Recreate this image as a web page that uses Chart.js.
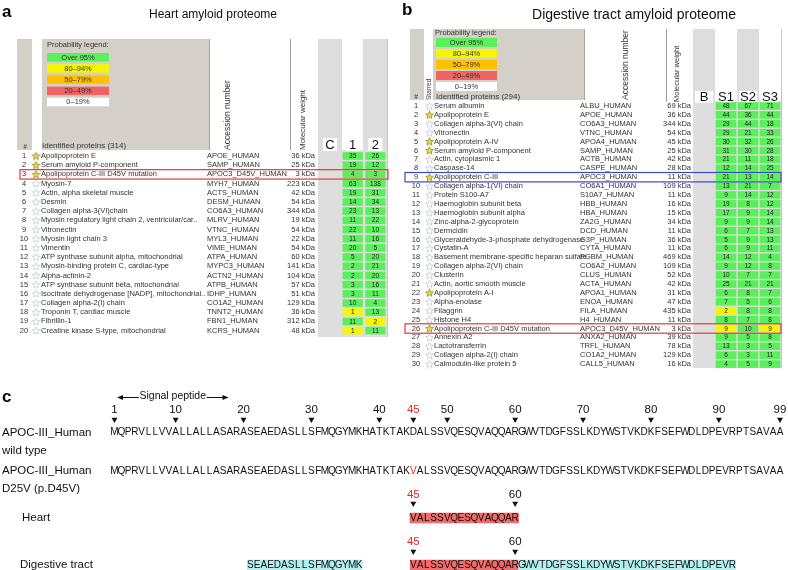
<!DOCTYPE html>
<html>
<head>
<meta charset="utf-8">
<script src="https://cdn.jsdelivr.net/npm/chart.js@4.4.1/dist/chart.umd.min.js"></script>
<style>
html, body { margin: 0; padding: 0; background: #fff; }
canvas { display: block; }
</style>
</head>
<body>
<canvas id="mycanvas" width="788" height="570" style="width:788px;height:570px"></canvas>
<script>
// ---- a: heart amyloid proteome ----
var heartCols = ['C', '1', '2'];
var heartNames = ['Apolipoprotein E', 'Serum amyloid P-component', 'Apolipoprotein C-III D45V mutation', 'Myosin-7',
  'Actin, alpha skeletal muscle', 'Desmin', 'Collagen alpha-3(VI)chain', 'Myosin regulatory light chain 2, ventricular/car..',
  'Vitronectin', 'Myosin light chain 3', 'Vimentin', 'ATP synthase subunit alpha, mitochondrial',
  'Myosin-binding protein C, cardiac-type', 'Alpha-actinin-2', 'ATP synthase subunit beta, mitochondrial',
  'Isocitrate dehydrogenase [NADP], mitochondrial..', 'Collagen alpha-2(I) chain', 'Troponin T, cardiac muscle',
  'Fibrillin-1', 'Creatine kinase S-type, mitochondrial'];
var heartAcc = ['APOE_HUMAN', 'SAMP_HUMAN', 'APOC3_D45V_HUMAN', 'MYH7_HUMAN', 'ACTS_HUMAN', 'DESM_HUMAN', 'CO6A3_HUMAN',
  'MLRV_HUMAN', 'VTNC_HUMAN', 'MYL3_HUMAN', 'VIME_HUMAN', 'ATPA_HUMAN', 'MYPC3_HUMAN', 'ACTN2_HUMAN', 'ATPB_HUMAN',
  'IDHP_HUMAN', 'CO1A2_HUMAN', 'TNNT2_HUMAN', 'FBN1_HUMAN', 'KCRS_HUMAN'];
var heartMW = [36, 25, 3, 223, 42, 54, 344, 19, 54, 22, 54, 60, 141, 104, 57, 51, 129, 36, 312, 48];
var heartStarred = [1, 1, 1, 0, 0, 0, 0, 0, 0, 0, 0, 0, 0, 0, 0, 0, 0, 0, 0, 0];
var heartCount1 = [35, 19, 4, 63, 19, 14, 23, 11, 22, 11, 20, 5, 2, 2, 3, 3, 10, 1, 11, 1];
var heartCount2 = [26, 12, 3, 138, 31, 34, 13, 22, 10, 16, 5, 20, 21, 20, 16, 11, 4, 13, 2, 11];
var heartProb1 = ['g','g','g','g','g','g','g','g','g','g','g','g','g','g','g','g','g','y','g','y'];
var heartProb2 = ['g','g','g','g','g','g','g','g','g','g','g','g','g','g','g','g','g','g','y','g'];
var heartBoxRows = [3];

// ---- b: digestive tract amyloid proteome ----
var digCols = ['B', 'S1', 'S2', 'S3'];
var digNames = ['Serum albumin', 'Apolipoprotein E', 'Collagen alpha-3(VI) chain', 'Vitronectin', 'Apolipoprotein A-IV',
  'Serum amyloid P-component', 'Actin, cytoplasmic 1', 'Caspase-14', 'Apolipoprotein C-III', 'Collagen alpha-1(VI) chain',
  'Protein S100-A7', 'Haemoglobin subunit beta', 'Haemoglobin subunit alpha', 'Zinc-alpha-2-glycoprotein', 'Dermcidin',
  'Glyceraldehyde-3-phosphate dehydrogenase', 'Cystatin-A', 'Basement membrane-specific heparan sulfate',
  'Collagen alpha-2(VI) chain', 'Clusterin', 'Actin, aortic smooth muscle', 'Apolipoprotein A-I', 'Alpha-enolase',
  'Filaggrin', 'Histone H4', 'Apolipoprotein C-III D45V mutation', 'Annexin A2', 'Lactotransferrin',
  'Collagen alpha-2(I) chain', 'Calmodulin-like protein 5'];
var digAcc = ['ALBU_HUMAN', 'APOE_HUMAN', 'CO6A3_HUMAN', 'VTNC_HUMAN', 'APOA4_HUMAN', 'SAMP_HUMAN', 'ACTB_HUMAN',
  'CASPE_HUMAN', 'APOC3_HUMAN', 'CO6A1_HUMAN', 'S10A7_HUMAN', 'HBB_HUMAN', 'HBA_HUMAN', 'ZA2G_HUMAN', 'DCD_HUMAN',
  'G3P_HUMAN', 'CYTA_HUMAN', 'PGBM_HUMAN', 'CO6A2_HUMAN', 'CLUS_HUMAN', 'ACTA_HUMAN', 'APOA1_HUMAN', 'ENOA_HUMAN',
  'FILA_HUMAN', 'H4_HUMAN', 'APOC3_D45V_HUMAN', 'ANXA2_HUMAN', 'TRFL_HUMAN', 'CO1A2_HUMAN', 'CALL5_HUMAN'];
var digMW = [69, 36, 344, 54, 45, 25, 42, 28, 11, 109, 11, 16, 15, 34, 11, 36, 11, 469, 109, 52, 42, 31, 47, 435, 11, 3, 39, 78, 129, 16];
var digStarred = [0, 1, 0, 0, 1, 1, 0, 0, 1, 0, 0, 0, 0, 0, 0, 0, 0, 0, 0, 0, 0, 1, 0, 0, 0, 1, 0, 0, 0, 0];
var digCount1 = [48, 44, 29, 29, 30, 31, 21, 12, 21, 13, 9, 19, 17, 9, 6, 5, 6, 14, 9, 10, 25, 6, 7, 2, 8, 9, 9, 13, 6, 4];
var digCount2 = [67, 36, 44, 21, 32, 30, 11, 14, 13, 21, 14, 8, 9, 9, 7, 9, 9, 12, 12, 7, 21, 8, 5, 8, 7, 10, 5, 3, 3, 5];
var digCount3 = [71, 44, 18, 33, 26, 28, 18, 25, 14, 7, 12, 12, 14, 14, 13, 13, 11, 4, 8, 7, 21, 7, 6, 8, 8, 9, 8, 5, 11, 9];
var digProb1 = ['g','g','g','g','g','g','g','g','g','g','g','g','g','g','g','g','g','g','g','g','g','g','g','y','g','y','g','g','g','g'];
var digProb2 = ['g','g','g','g','g','g','g','g','g','g','g','g','g','g','g','g','g','g','g','g','g','g','g','g','g','g','g','g','g','g'];
var digProb3 = ['g','g','g','g','g','g','g','g','g','g','g','g','g','g','g','g','g','g','g','g','g','g','g','g','g','y','g','g','g','g'];
var digBoxRows = [9, 26];

// ---- legend ----
var legendLabels = ['Over 95%', '80\u201394%', '50\u201379%', '20\u201349%', '0\u201319%'];
var legendKeys = ['g', 'y', 'o', 'r', 'w'];

// ---- c: APOC-III sequence ----
var wildType = 'MQPRVLLVVALLALLASARASEAEDASLLSFMQGYMKHATKTAKDALSSVQESQVAQQARGWVTDGFSSLKDYWSTVKDKFSEFWDLDPEVRPTSAVAA';
var mutationSite = 45;
var mutantResidue = 'V';
var seqTicks = [1, 10, 20, 30, 40, 45, 50, 60, 70, 80, 90, 99];
var signalPeptide = [1, 20];
var heartPeptides = [[45, 60]];
var digPeptides = [[21, 37], [45, 60], [61, 71], [72, 80], [81, 92]];
var peptideTicks = [45, 60];

var W = 788, H = 570;
var FONT = "'Liberation Sans', Arial, Helvetica, sans-serif";
var probColor = { g: '#5cef5c', y: '#f6f600', o: '#ffc000', r: '#f06464', w: '#ffffff' };
var panelGray = '#d4d0c8', colGray = '#dddddd';
var lane = { num: 410, tick: 419.5, wt: 432.5, mut: 471, hNum: 495, hTick: 503.5, heart: 518, dNum: 542, dTick: 551.5, dig: 565 };

// linear scale where value v0 sits at canvas pixel px0 and one unit is step pixels
function placed(px0, step, v0, size, reverse) {
  return { type: 'linear', display: false, bounds: 'data', offset: false, grace: 0, beginAtZero: false,
    reverse: !!reverse, min: v0 - px0 / step, max: v0 + (size - px0) / step };
}

// one floating vertical bar per table cell: x = column, y = [row top, row bottom]
function cells(counts, probs, half) {
  var out = [];
  counts.forEach(function (col, ci) {
    col.forEach(function (v, r) {
      out.push({ x: ci + 1, y: [r + 1 - half, r + 1 + half], row: r + 1, v: v, p: probs[ci][r] });
    });
  });
  return out;
}
var heartCells = cells([heartCount1, heartCount2], [heartProb1, heartProb2], 0.38);
var digCells = cells([digCount1, digCount2, digCount3], [digProb1, digProb2, digProb3], 0.39);

var peptideBars = [];
heartPeptides.forEach(function (p) { peptideBars.push({ y: lane.heart, x: [p[0] - 0.5, p[1] + 0.5], hit: p[0] <= mutationSite && p[1] >= mutationSite }); });
digPeptides.forEach(function (p) { peptideBars.push({ y: lane.dig, x: [p[0] - 0.45, p[1] + 0.45], hit: p[0] <= mutationSite && p[1] >= mutationSite }); });

var tickPts = seqTicks.map(function (t) { return { x: t, y: lane.tick }; })
  .concat(peptideTicks.map(function (t) { return { x: t, y: lane.hTick }; }))
  .concat(peptideTicks.map(function (t) { return { x: t, y: lane.dTick }; }));

function starImg(fill, stroke) {
  var c = document.createElement('canvas');
  c.width = 9; c.height = 9;
  var g = c.getContext('2d');
  g.beginPath();
  for (var k = 0; k < 10; k++) {
    var r = k % 2 ? 1.8 : 4.1, a = -Math.PI / 2 + k * Math.PI / 5;
    g.lineTo(4.5 + r * Math.cos(a), 4.8 + r * Math.sin(a));
  }
  g.closePath();
  g.fillStyle = fill; g.fill();
  g.strokeStyle = stroke; g.lineWidth = 0.8; g.stroke();
  return c;
}
var starOn = starImg('#e8e040', '#8a8830');
var starOff = starImg('#ffffff', '#b8ccd6');

function put(ctx, s, x, y, size, align, color, weight) {
  ctx.font = (weight ? weight + ' ' : '') + size + 'px ' + FONT;
  ctx.textAlign = align || 'left';
  ctx.textBaseline = 'middle';
  ctx.fillStyle = color || '#222';
  ctx.fillText(s, x, y);
}
function putUp(ctx, s, x, y, size) {
  ctx.save();
  ctx.translate(x, y);
  ctx.rotate(-Math.PI / 2);
  put(ctx, s, 0, 0, size, 'left', '#333');
  ctx.restore();
}
function rect(ctx, x0, y0, x1, y1, fill) { ctx.fillStyle = fill; ctx.fillRect(x0, y0, x1 - x0, y1 - y0); }
function vline(ctx, x, y0, y1, color) {
  ctx.strokeStyle = color; ctx.lineWidth = 1;
  ctx.beginPath(); ctx.moveTo(x + 0.5, y0); ctx.lineTo(x + 0.5, y1); ctx.stroke();
}

// the hidden scales span the whole canvas, whatever chart area the layout gives
var pinScales = {
  id: 'pinScales',
  afterLayout: function (chart) {
    chart.chartArea.left = 0; chart.chartArea.top = 0;
    chart.chartArea.right = W; chart.chartArea.bottom = H;
    chart.chartArea.width = W; chart.chartArea.height = H;
    Object.keys(chart.scales).forEach(function (id) {
      var sc = chart.scales[id];
      if (sc.isHorizontal()) { sc.left = 0; sc.right = W; sc.width = W; }
      else { sc.top = 0; sc.bottom = H; sc.height = H; }
      sc.configure();
    });
  }
};

var backdrop = {
  id: 'backdrop',
  beforeDatasetsDraw: function (chart) {
    var ctx = chart.ctx;
    ctx.save();
    // heart header
    rect(ctx, 17, 39, 32, 150, panelGray);
    rect(ctx, 42, 39, 210, 150, panelGray);
    vline(ctx, 209, 39, 150, '#a8a49c');
    vline(ctx, 290, 39, 150, '#a0a0a0');
    rect(ctx, 318, 39, 342, 150, colGray);
    rect(ctx, 363, 39, 387, 150, colGray);
    rect(ctx, 318, 150, 388, 337, '#dedede');
    vline(ctx, 387, 39, 337, '#c4c4c4');
    legendKeys.forEach(function (k, i) { rect(ctx, 47, 53 + i * 11.2, 109, 61.5 + i * 11.2, probColor[k]); });
    // digestive header
    rect(ctx, 410, 29, 424, 100, panelGray);
    rect(ctx, 433, 29, 585, 100, panelGray);
    vline(ctx, 584, 29, 100, '#a8a49c');
    vline(ctx, 666, 29, 102, '#a0a0a0');
    rect(ctx, 693, 29, 715, 101, colGray);
    rect(ctx, 737, 29, 759, 101, colGray);
    rect(ctx, 693, 101, 782, 368, '#dedede');
    vline(ctx, 781, 29, 368, '#c4c4c4');
    legendKeys.forEach(function (k, i) { rect(ctx, 436, 38 + i * 11, 497, 47 + i * 11, probColor[k]); });
    // header letter boxes sit under the datasets
    heartCols.forEach(function (c, i) {
      var x = chart.scales.xA.getPixelForValue(i);
      rect(ctx, x - 7, 138, x + 7, 151, '#fff');
    });
    digCols.forEach(function (c, i) {
      var x = chart.scales.xB.getPixelForValue(i);
      rect(ctx, x - 9, 91, x + 9, 103, '#fff');
    });
    ctx.restore();
  },
  afterDraw: function (chart) {
    var ctx = chart.ctx, s = chart.scales;
    ctx.save();
    // titles
    put(ctx, 'a', 2, 12, 17, 'left', '#000', 'bold');
    put(ctx, 'b', 402, 10, 17, 'left', '#000', 'bold');
    put(ctx, 'c', 2, 397, 17, 'left', '#000', 'bold');
    put(ctx, 'Heart amyloid proteome', 213, 15, 12, 'center', '#111');
    put(ctx, 'Digestive tract amyloid proteome', 634, 15, 14, 'center', '#111');

    // legends
    put(ctx, 'Probability legend:', 47, 45, 7.5, 'left', '#333');
    put(ctx, 'Probability legend:', 435, 33, 7.5, 'left', '#333');
    legendLabels.forEach(function (t, i) {
      put(ctx, t, 78, 57.5 + i * 11.2, 7.5, 'center', '#333');
      put(ctx, t, 466.5, 42.7 + i * 11, 7.5, 'center', '#333');
    });

    // heart header text
    put(ctx, '#', 25, 147, 6.5, 'center', '#333', 'italic');
    put(ctx, 'Identified proteins (314)', 42, 146, 8, 'left', '#333');
    putUp(ctx, 'Accession number', 228, 150, 8.5);
    putUp(ctx, 'Molecular weight', 303, 150, 8);
    heartCols.forEach(function (c, i) {
      put(ctx, c, s.xA.getPixelForValue(i), 145, 13, 'center', '#111');
    });
    // digestive header text
    put(ctx, '#', 416, 97, 6.5, 'center', '#333', 'italic');
    putUp(ctx, 'Starred', 429, 100, 6.5);
    put(ctx, 'Identified proteins (294)', 436, 97, 8, 'left', '#333');
    putUp(ctx, 'Accession number', 626, 100, 8.5);
    putUp(ctx, 'Molecular weight', 677, 102, 7.5);
    digCols.forEach(function (c, i) {
      put(ctx, c, s.xB.getPixelForValue(i), 97.5, 13, 'center', '#111');
    });

    // heart rows
    heartNames.forEach(function (n, i) {
      var y = s.yA.getPixelForValue(i + 1);
      put(ctx, String(i + 1), 24, y, 7.5, 'center', '#333');
      put(ctx, n, 41, y, 7.5, 'left', '#333');
      put(ctx, heartAcc[i], 207, y, 7.5, 'left', '#333');
      put(ctx, heartMW[i] + ' kDa', 315, y, 7.5, 'right', '#333');
    });
    heartCells.forEach(function (c) {
      put(ctx, String(c.v), s.xA.getPixelForValue(c.x), s.yA.getPixelForValue(c.row) + 0.3, 6.5, 'center', '#222');
    });
    // digestive rows
    digNames.forEach(function (n, i) {
      var y = s.yB.getPixelForValue(i + 1);
      put(ctx, String(i + 1), 416, y, 7.5, 'center', '#333');
      put(ctx, n, 434, y, 7.5, 'left', '#333');
      put(ctx, digAcc[i], 580, y, 7.5, 'left', '#333');
      put(ctx, digMW[i] + ' kDa', 691, y, 7.5, 'right', '#333');
    });
    digCells.forEach(function (c) {
      put(ctx, String(c.v), s.xB.getPixelForValue(c.x), s.yB.getPixelForValue(c.row) + 0.3, 6.5, 'center', '#222');
    });

    // highlight boxes
    ctx.lineWidth = 1.2;
    heartBoxRows.forEach(function (r) {
      var y = s.yA.getPixelForValue(r);
      ctx.strokeStyle = '#e03a3a';
      ctx.strokeRect(20, y - 4.7, 368, 9.4);
    });
    digBoxRows.forEach(function (r) {
      var y = s.yB.getPixelForValue(r);
      ctx.strokeStyle = r === 26 ? '#e03a3a' : '#3a48c8';
      ctx.strokeRect(405, y - 4.7, 376, 9.4);
    });

    // sequence panel
    var xS = s.xS;
    var a0 = xS.getPixelForValue(signalPeptide[0]) + 3.5, a1 = xS.getPixelForValue(signalPeptide[1]) - 16;
    var mid = (a0 + a1) / 2;
    put(ctx, 'Signal peptide', mid, 396, 10.5, 'center', '#111');
    ctx.strokeStyle = '#111'; ctx.lineWidth = 1;
    ctx.beginPath();
    ctx.moveTo(a0, 397.5); ctx.lineTo(mid - 34, 397.5);
    ctx.moveTo(mid + 34, 397.5); ctx.lineTo(a1, 397.5);
    ctx.stroke();
    ctx.fillStyle = '#111';
    ctx.beginPath(); ctx.moveTo(a0 - 1, 397.5); ctx.lineTo(a0 + 5, 395); ctx.lineTo(a0 + 5, 400); ctx.fill();
    ctx.beginPath(); ctx.moveTo(a1 + 1, 397.5); ctx.lineTo(a1 - 5, 395); ctx.lineTo(a1 - 5, 400); ctx.fill();

    seqTicks.forEach(function (t) {
      put(ctx, String(t), xS.getPixelForValue(t), lane.num, 11.5, 'center', t === mutationSite ? '#e02828' : '#111');
    });
    peptideTicks.forEach(function (t) {
      var c = t === mutationSite ? '#e02828' : '#111';
      put(ctx, String(t), xS.getPixelForValue(t), lane.hNum, 11.5, 'center', c);
      put(ctx, String(t), xS.getPixelForValue(t), lane.dNum, 11.5, 'center', c);
    });
    for (var i = 1; i <= wildType.length; i++) {
      var x = xS.getPixelForValue(i), ch = wildType.charAt(i - 1);
      put(ctx, ch, x, lane.wt, 10, 'center', '#111');
      if (i === mutationSite) put(ctx, mutantResidue, x, lane.mut, 10, 'center', '#e02828');
      else put(ctx, ch, x, lane.mut, 10, 'center', '#111');
    }
    function fragment(list, y) {
      list.forEach(function (p) {
        for (var r = p[0]; r <= p[1]; r++) {
          var c = r === mutationSite ? mutantResidue : wildType.charAt(r - 1);
          put(ctx, c, xS.getPixelForValue(r), y, 10, 'center', '#111');
        }
      });
    }
    fragment(heartPeptides, lane.heart);
    fragment(digPeptides, lane.dig);

    put(ctx, 'APOC-III_Human', 2, lane.wt, 11.5, 'left', '#111');
    put(ctx, 'wild type', 2, 450.5, 11.5, 'left', '#111');
    put(ctx, 'APOC-III_Human', 2, lane.mut, 11.5, 'left', '#111');
    put(ctx, 'D25V (p.D45V)', 2, 489, 11.5, 'left', '#111');
    put(ctx, 'Heart', 22, lane.heart, 11.5, 'left', '#111');
    put(ctx, 'Digestive tract', 20, lane.dig, 11.5, 'left', '#111');
    ctx.restore();
  }
};

var ctx = document.getElementById('mycanvas');
var chart = new Chart(ctx, {
  type: 'bar',
  data: {
    datasets: [
      {
        label: 'heart cells', xAxisID: 'xA', yAxisID: 'yA', grouped: false,
        data: heartCells, barThickness: 19.5, borderWidth: 0, clip: false,
        backgroundColor: function (c) { return probColor[c.raw.p]; }
      },
      {
        label: 'digestive cells', xAxisID: 'xB', yAxisID: 'yB', grouped: false,
        data: digCells, barThickness: 20, borderWidth: 0, clip: false,
        backgroundColor: function (c) { return probColor[c.raw.p]; }
      },
      {
        label: 'peptides', indexAxis: 'y', xAxisID: 'xS', yAxisID: 'yP', grouped: false,
        data: peptideBars, barThickness: 10, borderWidth: 0, clip: false,
        backgroundColor: function (c) { return c.raw.hit ? '#f26a6a' : '#b2f0f0'; }
      },
      {
        type: 'scatter', label: 'heart stars', xAxisID: 'xP', yAxisID: 'yA', clip: false,
        data: heartStarred.map(function (st, i) { return { x: 36, y: i + 1, st: st }; }),
        pointRadius: 4, pointBorderWidth: 0,
        pointStyle: function (c) { return c.raw && c.raw.st ? starOn : starOff; }
      },
      {
        type: 'scatter', label: 'digestive stars', xAxisID: 'xP', yAxisID: 'yB', clip: false,
        data: digStarred.map(function (st, i) { return { x: 429.5, y: i + 1, st: st }; }),
        pointRadius: 4, pointBorderWidth: 0,
        pointStyle: function (c) { return c.raw && c.raw.st ? starOn : starOff; }
      },
      {
        type: 'scatter', label: 'ticks', xAxisID: 'xS', yAxisID: 'yP', clip: false,
        data: tickPts, pointStyle: 'triangle', rotation: 180, pointRadius: 3.4,
        backgroundColor: '#111', borderColor: '#111', borderWidth: 0
      }
    ]
  },
  options: {
    responsive: false,
    animation: false,
    events: [],
    layout: { padding: 0, autoPadding: false },
    plugins: { legend: { display: false }, tooltip: { enabled: false }, title: { display: false } },
    scales: {
      xA: placed(330, 22.7, 0, W, false),
      yA: placed(156, 9.19, 1, H, true),
      xB: placed(704, 22, 0, W, false),
      yB: placed(106, 8.9, 1, H, true),
      xS: placed(114.5, (780 - 114.5) / 98, 1, W, false),
      xP: placed(0, 1, 0, W, false),
      yP: placed(0, 1, 0, H, true)
    }
  },
  plugins: [pinScales, backdrop]
});
</script>
</body>
</html>
